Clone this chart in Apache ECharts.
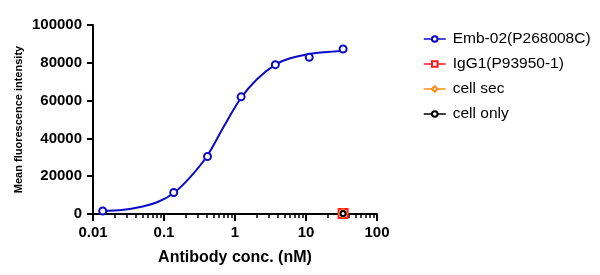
<!DOCTYPE html>
<html>
<head>
<meta charset="utf-8">
<script src="https://cdn.jsdelivr.net/npm/echarts@6/dist/echarts.min.js"></script>
<style>
html,body{margin:0;padding:0;background:#fff;}
#chart{width:600px;height:275px;}
</style>
</head>
<body>
<div id="chart"></div>
<script>
// Data
const embConc = [0.0137, 0.137, 0.41, 1.22, 3.7, 11.1, 33.3];
const embValues = [1600, 11400, 30400, 62000, 79000, 82900, 87300];
const fitConc = [0.0137, 0.027, 0.046, 0.08, 0.136, 0.234, 0.40, 0.69, 1.22, 2.04, 3.7, 6.0, 11.1, 17.7, 33.3];
const fitValues = [1600, 2200, 3700, 6200, 11000, 19500, 30400, 46000, 61500, 71300, 79000, 82400, 84600, 85600, 86300];
const iggConc = [33.3];
const iggValues = [300];
const cellSecConc = [33.3];
const cellSecValues = [300];
const cellOnlyConc = [33.3];
const cellOnlyValues = [300];
const xTickLabels = [0.01, 0.1, 1, 10, 100];
const xMinorTicks = [0.02,0.03,0.04,0.05,0.06,0.07,0.08,0.09,0.2,0.3,0.4,0.5,0.6,0.7,0.8,0.9,2,3,4,5,6,7,8,9,20,30,40,50,60,70,80,90];
const yTicks = [0, 20000, 40000, 60000, 80000, 100000];
const seriesNames = ['Emb-02(P268008C)', 'IgG1(P93950-1)', 'cell sec', 'cell only'];

const zip = (a, b) => a.map((v, i) => [v, b[i]]);
const FONT = '"Liberation Sans", Arial, sans-serif';
const BLUE = '#0b0bc4';
const RED = '#ff1a1a';
const ORANGE = '#ff8c1a';
const BLACK = '#000000';

const chart = echarts.init(document.getElementById('chart'));
const grid = {left: 93, right: 223, top: 25, bottom: 61};
chart.setOption({
  animation: false,
  backgroundColor: '#ffffff',
  grid: grid,
  legend: {
    orient: 'vertical',
    left: 418,
    top: 25,
    itemWidth: 22,
    itemHeight: 7,
    itemGap: 7,
    textStyle: {fontFamily: FONT, fontSize: 15.5, color: '#000', padding: [0, 0, 0, 2], lineHeight: 18},
    lineStyle: {width: 1.5, opacity: 1},
    data: seriesNames
  },
  xAxis: [{
    type: 'log',
    logBase: 10,
    min: 0.01,
    max: 100,
    position: 'bottom',
    axisLine: {show: true, lineStyle: {color: '#000', width: 2}},
    axisTick: {show: true, length: 7, lineStyle: {color: '#000', width: 2}, customValues: xTickLabels},
    axisLabel: {
      customValues: xTickLabels,
      fontFamily: FONT, fontSize: 15, fontWeight: 'bold', color: '#000', margin: 11,
      formatter: v => String(Number(v.toPrecision(3)))
    },
    splitLine: {show: false},
    name: 'Antibody conc. (nM)',
    nameLocation: 'middle',
    nameGap: 36,
    nameTextStyle: {fontFamily: FONT, fontSize: 16, fontWeight: 'bold', color: '#000'}
  }, {
    type: 'log',
    logBase: 10,
    min: 0.01,
    max: 100,
    position: 'bottom',
    axisLine: {show: false},
    axisTick: {show: true, length: 4, lineStyle: {color: '#000', width: 1.5}, customValues: xMinorTicks},
    axisLabel: {show: false},
    splitLine: {show: false}
  }],
  yAxis: {
    type: 'value',
    min: 0,
    max: 100000,
    interval: 20000,
    axisLine: {show: true, lineStyle: {color: '#000', width: 2}},
    axisTick: {show: true, length: 6, lineStyle: {color: '#000', width: 2}},
    axisLabel: {
      fontFamily: FONT, fontSize: 15, fontWeight: 'bold', color: '#000', margin: 11,
      formatter: v => String(v)
    },
    splitLine: {show: false},
    name: 'Mean fluorescence intensity',
    nameLocation: 'middle',
    nameGap: 69,
    nameTextStyle: {fontFamily: FONT, fontSize: 11, fontWeight: 'bold', color: '#000', padding: [0, 0, 0, 0]}
  },
  series: [
    {
      name: seriesNames[0],
      type: 'line',
      data: zip(embConc, embValues),
      symbol: 'emptyCircle',
      symbolSize: 7,
      lineStyle: {opacity: 0, width: 0},
      itemStyle: {color: BLUE, borderWidth: 2},
      z: 5
    },
    {
      name: 'fit',
      type: 'line',
      data: zip(fitConc, fitValues),
      smooth: 0.4,
      showSymbol: false,
      symbol: 'none',
      lineStyle: {color: BLUE, width: 2},
      itemStyle: {color: BLUE},
      z: 4
    },
    {
      name: seriesNames[1],
      type: 'line',
      data: zip(iggConc, iggValues),
      symbol: 'emptyRect',
      symbolSize: 9,
      lineStyle: {opacity: 0, width: 0},
      itemStyle: {color: RED, borderWidth: 2},
      z: 6
    },
    {
      name: seriesNames[2],
      type: 'line',
      data: zip(cellSecConc, cellSecValues),
      symbol: 'emptyDiamond',
      symbolSize: 8,
      lineStyle: {opacity: 0, width: 0},
      itemStyle: {color: ORANGE, borderWidth: 2},
      z: 7
    },
    {
      name: seriesNames[3],
      type: 'line',
      data: zip(cellOnlyConc, cellOnlyValues),
      symbol: 'emptyCircle',
      symbolSize: 5,
      lineStyle: {opacity: 0, width: 0},
      itemStyle: {color: BLACK, borderWidth: 1.5},
      z: 8
    }
  ]
});
</script>
</body>
</html>
